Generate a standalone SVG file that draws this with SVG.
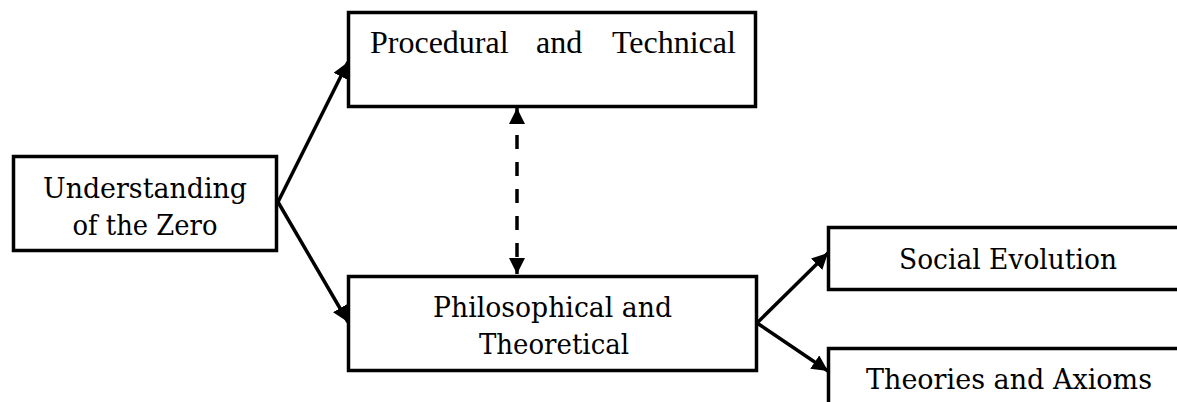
<svg xmlns="http://www.w3.org/2000/svg" width="1177" height="402" viewBox="0 0 1177 402">
  <style>
    .box { fill: #ffffff; stroke: #000000; stroke-width: 3.5; }
    .cam { font-family: "DejaVu Serif", "Liberation Serif", serif; font-size: 28.5px; fill: #000000; text-anchor: middle; }
    .tms { font-family: "Liberation Serif", "Times New Roman", serif; font-size: 32px; fill: #000000; }
    .link { fill: none; stroke: #000000; stroke-width: 3.5; }
    .dash { stroke-dasharray: 14 13; }
  </style>
  <defs>
    <marker id="arrow" markerUnits="userSpaceOnUse" markerWidth="17" markerHeight="16" viewBox="0 0 17 16" refX="16" refY="8" orient="auto-start-reverse">
      <path d="M0,0 L16,8 L0,16 z" fill="#000000"/>
    </marker>
  </defs>
  <rect width="1177" height="402" fill="#ffffff"/>

  <g id="connectors">
    <line class="link" x1="278" y1="202" x2="348" y2="62" marker-end="url(#arrow)"/>
    <line class="link" x1="278" y1="202" x2="348" y2="322" marker-end="url(#arrow)"/>
    <line class="link" x1="757" y1="323" x2="828" y2="253" marker-end="url(#arrow)"/>
    <line class="link" x1="757" y1="323" x2="828" y2="371" marker-end="url(#arrow)"/>
    <line class="link dash" x1="517" y1="108" x2="517" y2="274" marker-start="url(#arrow)" marker-end="url(#arrow)"/>
  </g>

  <g id="node-understanding">
    <rect class="box" x="13.5" y="156.5" width="263" height="94"/>
    <text class="cam" x="145" y="198" textLength="204" lengthAdjust="spacingAndGlyphs">Understanding</text>
    <text class="cam" x="145" y="235" textLength="145" lengthAdjust="spacingAndGlyphs">of the Zero</text>
  </g>

  <g id="node-procedural">
    <rect class="box" x="348.5" y="12.5" width="407" height="94"/>
    <text class="tms" x="370" y="53">Procedural</text>
    <text class="tms" x="536" y="53">and</text>
    <text class="tms" x="612" y="53">Technical</text>
  </g>

  <g id="node-philosophical">
    <rect class="box" x="348.5" y="276.5" width="408" height="94"/>
    <text class="cam" x="552.5" y="317" textLength="239" lengthAdjust="spacingAndGlyphs">Philosophical and</text>
    <text class="cam" x="554" y="354" textLength="150" lengthAdjust="spacingAndGlyphs">Theoretical</text>
  </g>

  <g id="node-social">
    <rect class="box" x="828.5" y="227.5" width="400" height="62"/>
    <text class="cam" x="1008" y="269" textLength="218" lengthAdjust="spacingAndGlyphs">Social Evolution</text>
  </g>

  <g id="node-theories">
    <rect class="box" x="828.5" y="348.5" width="400" height="100"/>
    <text class="cam" x="1009" y="389" textLength="286" lengthAdjust="spacingAndGlyphs">Theories and Axioms</text>
  </g>
</svg>
